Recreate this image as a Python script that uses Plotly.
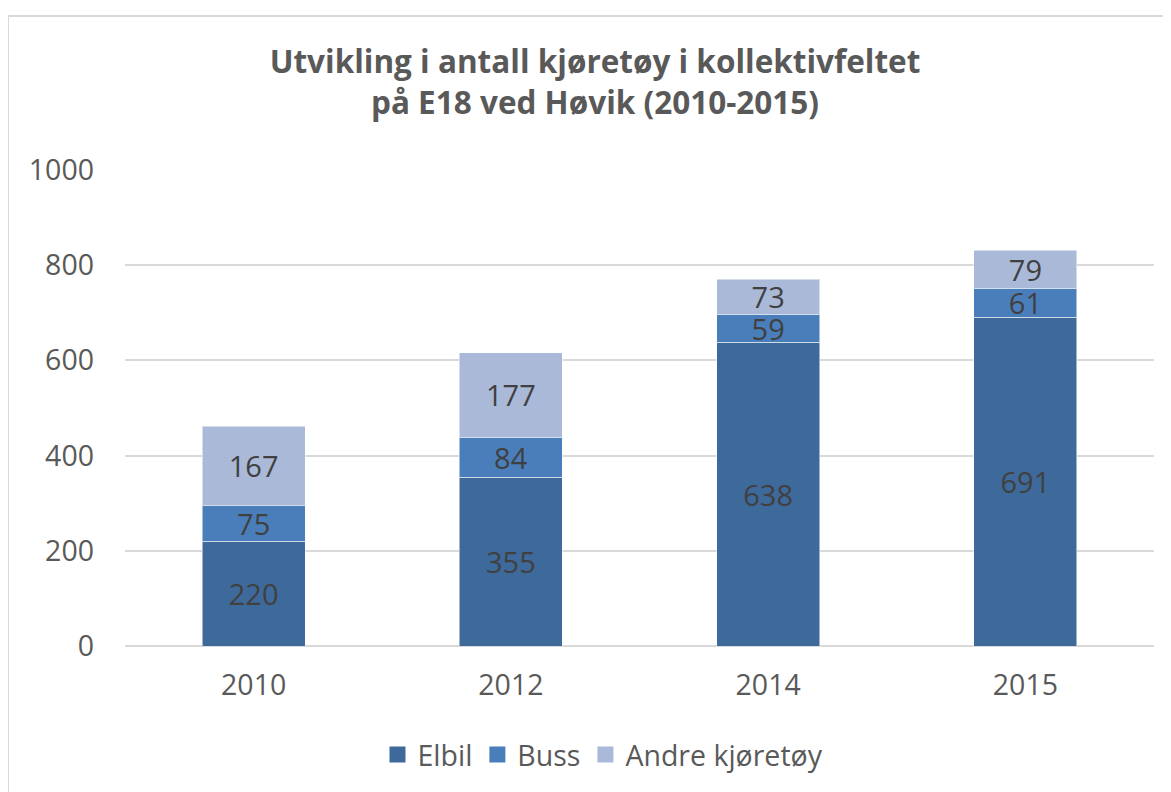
import plotly.graph_objects as go

years = ["2010", "2012", "2014", "2015"]
elbil = [220, 355, 638, 691]
buss = [75, 84, 59, 61]
andre = [167, 177, 73, 79]
series_names = ["Elbil", "Buss", "Andre kjøretøy"]
colors = ["#3E699B", "#4A7EBB", "#AAB9D8"]

OFF = 8  # page body margin
W, H = 1171, 792
L, R, T, B = 125 - OFF, 25, 170 - OFF, 154
pw, ph = W - L - R, H - T - B

FONT = "'Open Sans', sans-serif"
GREY = "#595959"

fig = go.Figure()
for name, vals, col in zip(series_names, [elbil, buss, andre], colors):
    fig.add_trace(go.Bar(
        x=years, y=vals, name=name, showlegend=False,
        marker=dict(color=col, line=dict(color="rgba(255,255,255,0.5)", width=1)),
        text=[str(v) for v in vals], textposition="inside", textangle=0,
        insidetextanchor="middle", constraintext="none",
        textfont=dict(size=29, color="#404040", family=FONT),
        hoverinfo="skip",
    ))
# legend entries with larger square swatches
for name, col in zip(series_names, colors):
    fig.add_trace(go.Scatter(
        x=[None], y=[None], mode="markers", name=name,
        marker=dict(symbol="square", size=18, color=col), hoverinfo="skip",
    ))


def px_x(p):
    return (p - OFF - L) / pw


def px_y(p):
    return (H - B - (p - OFF)) / ph


fig.add_shape(type="rect", xref="paper", yref="paper",
              x0=px_x(8), x1=px_x(1185), y0=px_y(16), y1=px_y(810),
              line=dict(color="#D9D9D9", width=2), fillcolor="rgba(0,0,0,0)",
              layer="below")

fig.update_layout(
    width=W, height=H,
    margin=dict(l=L, r=R, t=T, b=B, autoexpand=False),
    barmode="stack", bargap=0.6,
    paper_bgcolor="white", plot_bgcolor="white",
    font=dict(family=FONT, color=GREY),
    title=dict(
        text="<b>Utvikling i antall kjøretøy i kollektivfeltet<br>på E18 ved Høvik (2010-2015)</b>",
        x=(595 - OFF) / W, xanchor="center", xref="container",
        y=1 - (73 - OFF) / H, yanchor="middle", yref="container",
        font=dict(size=31.5, color=GREY, family=FONT),
    ),
    xaxis=dict(showgrid=False, showline=False, ticks="",
               tickfont=dict(size=28.5, color=GREY), ticklabelstandoff=19),
    yaxis=dict(range=[0, 1000], dtick=200, showgrid=True, gridcolor="#D9D9D9",
               gridwidth=1.5, zeroline=True, zerolinecolor="#D9D9D9", zerolinewidth=1.5,
               showline=False, ticks="",
               tickfont=dict(size=28.5, color=GREY), ticklabelstandoff=30),
    legend=dict(orientation="h", x=px_x(603), xanchor="center",
                y=px_y(755), yanchor="middle",
                font=dict(size=28.5, color=GREY),
                traceorder="normal"),
    showlegend=True,
)

fig.write_html("out.html")
